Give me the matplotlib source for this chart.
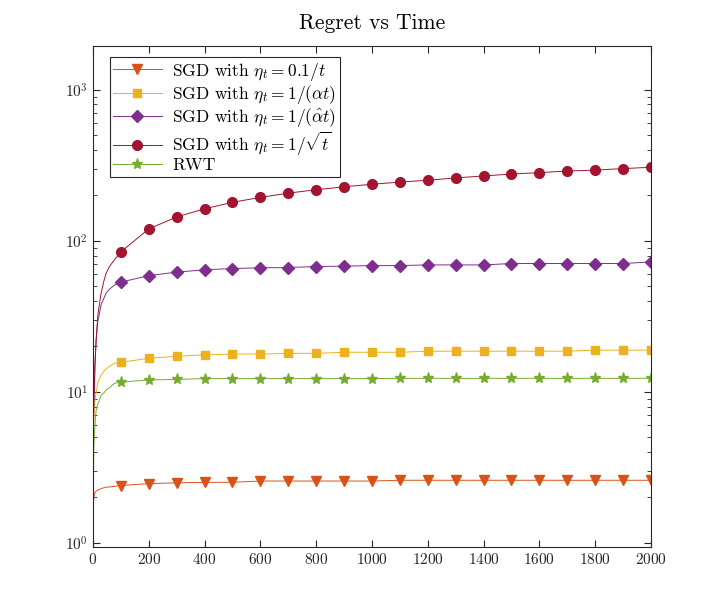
import numpy as np
import matplotlib
matplotlib.use("Agg")
import matplotlib.pyplot as plt
from matplotlib.ticker import LogLocator, NullFormatter

plt.rcParams["font.family"] = "serif"
plt.rcParams["font.serif"] = ["cmr10", "DejaVu Serif"]
plt.rcParams["mathtext.fontset"] = "cm"
plt.rcParams["axes.unicode_minus"] = False
plt.rcParams["axes.formatter.use_mathtext"] = True

# time steps of the drawn lines (dense near the start, then every 100)
t = [1, 2, 3, 5, 7, 11, 17, 23, 29, 40, 47, 60, 77] + list(range(100, 2001, 100))

sgd_01 = [1.74, 1.9, 2.0, 2.08, 2.15, 2.2, 2.24, 2.26, 2.29, 2.32, 2.34, 2.35, 2.37,
          2.40, 2.47, 2.50, 2.52, 2.52, 2.57, 2.57, 2.57, 2.57, 2.57,
          2.60, 2.60, 2.60, 2.60, 2.60, 2.60, 2.60, 2.60, 2.60, 2.60]
sgd_alpha = [3.5, 5.0, 6.5, 7.8, 8.8, 9.8, 11.4, 12.3, 12.9, 13.8, 14.2, 14.8, 15.5,
             15.7, 16.7, 17.2, 17.6, 17.8, 17.8, 18.0, 18.0, 18.3, 18.3,
             18.3, 18.6, 18.6, 18.6, 18.6, 18.6, 18.6, 18.9, 18.9, 18.9]
sgd_alphahat = [4.5, 7.0, 8.8, 11.0, 15.0, 22.0, 29.0, 33.0, 37.7, 42.0, 45.0, 48.0, 51.0,
                53.3, 58.9, 62.1, 64.3, 65.6, 66.3, 66.6, 67.6, 68.0, 68.6,
                68.6, 69.3, 69.3, 69.3, 70.8, 70.8, 70.8, 70.8, 70.8, 72.6]
sgd_sqrt = [4.5, 7.0, 8.8, 10.3, 14.7, 21.0, 31.5, 38.0, 45.0, 55.0, 61.0, 68.0, 75.0,
            84.6, 120, 144, 163, 180, 194, 207, 218, 228, 237,
            245, 252, 261, 269, 277, 283, 290, 294, 301, 307]
rwt = [0.9, 2.8, 4.2, 5.2, 5.9, 7.5, 8.3, 8.8, 9.5, 9.9, 10.3, 10.7, 11.4,
       11.6, 12.0, 12.1, 12.25, 12.25, 12.25, 12.25, 12.25, 12.25, 12.25,
       12.3, 12.3, 12.3, 12.3, 12.3, 12.3, 12.3, 12.3, 12.3, 12.3]

labels = [r"SGD with $\eta_t = 0.1/t$",
          r"SGD with $\eta_t = 1/(\alpha t)$",
          r"SGD with $\eta_t = 1/(\hat{\alpha} t)$",
          r"SGD with $\eta_t = 1/\sqrt{t}$",
          "RWT"]
series = [sgd_01, sgd_alpha, sgd_alphahat, sgd_sqrt, rwt]
colors = ["#D95319", "#EDB120", "#7E2F8E", "#A2142F", "#77AC30"]
markers = ["v", "s", "D", "o", "*"]
msizes = [7, 5.5, 6, 7, 8]

fig = plt.figure(figsize=(7.19, 6.16), dpi=100)
ax = fig.add_axes([0.1293, 0.112, 0.7761, 0.8133])

first_mark = t.index(100)
for y, lbl, c, m, ms in zip(series, labels, colors, markers, msizes):
    ax.plot(t, y, color=c, lw=0.7, marker=m, ms=ms, mec=c, mfc=c,
            markevery=slice(first_mark, None), label=lbl)

ax.set_yscale("log")
ax.set_xlim(0, 2000)
ax.set_ylim(0.94, 1950)
ax.set_xticks(range(0, 2001, 200))
ax.yaxis.set_major_locator(LogLocator(base=10, numticks=10))
ax.yaxis.set_minor_locator(LogLocator(base=10, subs=np.arange(2, 10), numticks=20))
ax.yaxis.set_minor_formatter(NullFormatter())

dark = "#262626"
for sp in ax.spines.values():
    sp.set_color(dark)
    sp.set_linewidth(0.8)
ax.tick_params(which="both", direction="in", top=True, right=True,
               colors=dark, labelsize=11)
ax.tick_params(which="major", length=5)
ax.tick_params(which="minor", length=3)

ax.set_title("Regret vs Time", fontsize=15.5, pad=12)

leg = ax.legend(loc="upper left", bbox_to_anchor=(0.03, 0.978), fontsize=12.5,
                fancybox=False, framealpha=1, edgecolor=dark,
                handlelength=2.8, handletextpad=0.6, borderpad=0.2,
                labelspacing=0.02, borderaxespad=0)
leg.get_frame().set_linewidth(0.8)

fig.savefig("out.png", dpi=100)
